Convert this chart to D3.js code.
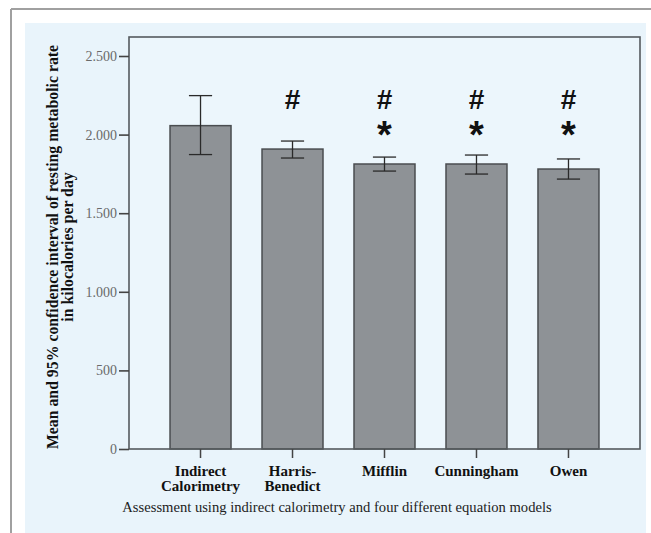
<!DOCTYPE html>
<html>
<head>
<meta charset="utf-8">
<script src="https://cdn.jsdelivr.net/npm/d3@7"></script>
<style>
  html, body { margin: 0; padding: 0; background: #ffffff; }
  svg { display: block; }
</style>
</head>
<body>
<svg id="chart" width="651" height="533"></svg>
<script>
// ---- data ----
const categories = ["Indirect Calorimetry", "Harris-Benedict", "Mifflin", "Cunningham", "Owen"];
const categoryLines = [["Indirect", "Calorimetry"], ["Harris-", "Benedict"], ["Mifflin"], ["Cunningham"], ["Owen"]];
const means  = [2057, 1908, 1813, 1813, 1781];
const ciLow  = [1873, 1851, 1768, 1749, 1717];
const ciHigh = [2248, 1959, 1857, 1870, 1845];
const hashMark = ["", "#", "#", "#", "#"];
const starMark = ["", "", "*", "*", "*"];
const yTicks = [0, 500, 1000, 1500, 2000, 2500];
const yTitleLines = ["Mean and 95% confidence interval of resting metabolic rate", "in kilocalories per day"];
const xTitle = "Assessment using indirect calorimetry and four different equation models";

// ---- layout ----
const svg = d3.select("#chart");
const serif = "'Liberation Serif', 'Times New Roman', serif";
const sans = "'Liberation Sans', Arial, sans-serif";

// outer frame
svg.append("rect").attr("x", 25).attr("y", 23).attr("width", 621).attr("height", 520).attr("fill", "#e9f4fb");
svg.append("line").attr("x1", 11).attr("x2", 651).attr("y1", 9).attr("y2", 9).attr("stroke", "#a0a0a0").attr("stroke-width", 2);
svg.append("line").attr("x1", 11).attr("x2", 11).attr("y1", 9).attr("y2", 533).attr("stroke", "#a0a0a0").attr("stroke-width", 2);

const plot = { left: 129, right: 640, top: 37, bottom: 449 };

const x = d3.scaleBand().domain(categories).range([plot.left, plot.right]).paddingInner(0.337).paddingOuter(0.446);
const y = d3.scaleLinear().domain([0, 2500]).range([449, 56]);

const locale = d3.formatLocale({ decimal: ",", thousands: ".", grouping: [3], currency: ["", ""] });
const fmt = locale.format(",d");

// plot background
svg.append("rect").attr("x", plot.left).attr("y", plot.top)
  .attr("width", plot.right - plot.left).attr("height", plot.bottom - plot.top)
  .attr("fill", "#ecf6fc");

// bars
const data = categories.map((c, i) => ({ c, i, m: means[i], lo: ciLow[i], hi: ciHigh[i] }));
svg.append("g").selectAll("rect").data(data).join("rect")
  .attr("x", d => x(d.c)).attr("width", x.bandwidth())
  .attr("y", d => y(d.m)).attr("height", d => y(0) - y(d.m))
  .attr("fill", "#8e9296").attr("stroke", "#4a4d50").attr("stroke-width", 1.5);

// error bars
const capW = x.bandwidth() * 0.38;
const eb = svg.append("g").attr("stroke", "#2a2a2a").attr("stroke-width", 1.3);
data.forEach(d => {
  const cx = x(d.c) + x.bandwidth() / 2;
  eb.append("line").attr("x1", cx).attr("x2", cx).attr("y1", y(d.hi)).attr("y2", y(d.lo));
  eb.append("line").attr("x1", cx - capW / 2).attr("x2", cx + capW / 2).attr("y1", y(d.hi)).attr("y2", y(d.hi));
  eb.append("line").attr("x1", cx - capW / 2).attr("x2", cx + capW / 2).attr("y1", y(d.lo)).attr("y2", y(d.lo));
});

// frame
svg.append("rect").attr("x", plot.left).attr("y", plot.top)
  .attr("width", plot.right - plot.left).attr("height", plot.bottom - plot.top)
  .attr("fill", "none").attr("stroke", "#555a5e").attr("stroke-width", 1.6);

// y axis
const yAxis = d3.axisLeft(y).tickValues(yTicks).tickFormat(fmt).tickSize(10).tickPadding(2);
const gy = svg.append("g").attr("transform", `translate(${plot.left},0)`).call(yAxis);
gy.select(".domain").remove();
gy.selectAll(".tick line").attr("stroke", "#444").attr("stroke-width", 1.6);
gy.selectAll(".tick text").attr("font-family", serif).attr("font-size", 14).attr("fill", "#6a6a6a");

// x axis
const xAxis = d3.axisBottom(x).tickSize(9).tickFormat("");
const gx = svg.append("g").attr("transform", `translate(0,${plot.bottom})`).call(xAxis);
gx.select(".domain").remove();
gx.selectAll(".tick line").attr("stroke", "#444").attr("stroke-width", 1.5);
gx.selectAll(".tick").each(function (d, i) {
  const t = d3.select(this).append("text")
    .attr("font-family", serif).attr("font-size", 15).attr("font-weight", "bold")
    .attr("fill", "#111").attr("text-anchor", "middle");
  categoryLines[i].forEach((ln, k) => {
    t.append("tspan").attr("x", 0).attr("y", 27 + k * 15).text(ln);
  });
});

// annotations
const ann = svg.append("g").attr("font-family", sans).attr("font-weight", "bold").attr("fill", "#111").attr("text-anchor", "middle");
data.forEach(d => {
  const cx = x(d.c) + x.bandwidth() / 2;
  if (hashMark[d.i]) ann.append("text").attr("x", cx).attr("y", y(2160)).attr("font-size", 28).text(hashMark[d.i]);
  if (starMark[d.i]) ann.append("text").attr("x", cx).attr("y", y(1915)).attr("font-size", 38).text(starMark[d.i]);
});

// y title
const yt = svg.append("text")
  .attr("transform", `translate(0,247) rotate(-90)`)
  .attr("font-family", serif).attr("font-size", 15.8).attr("font-weight", "bold")
  .attr("fill", "#111").attr("text-anchor", "middle");
yTitleLines.forEach((ln, k) => {
  yt.append("tspan").attr("x", 0).attr("y", 58 + k * 14.5).text(ln);
});

// x title
svg.append("text").attr("x", 337).attr("y", 512)
  .attr("font-family", serif).attr("font-size", 14.6).attr("fill", "#222")
  .attr("text-anchor", "middle").text(xTitle);
</script>
</body>
</html>
